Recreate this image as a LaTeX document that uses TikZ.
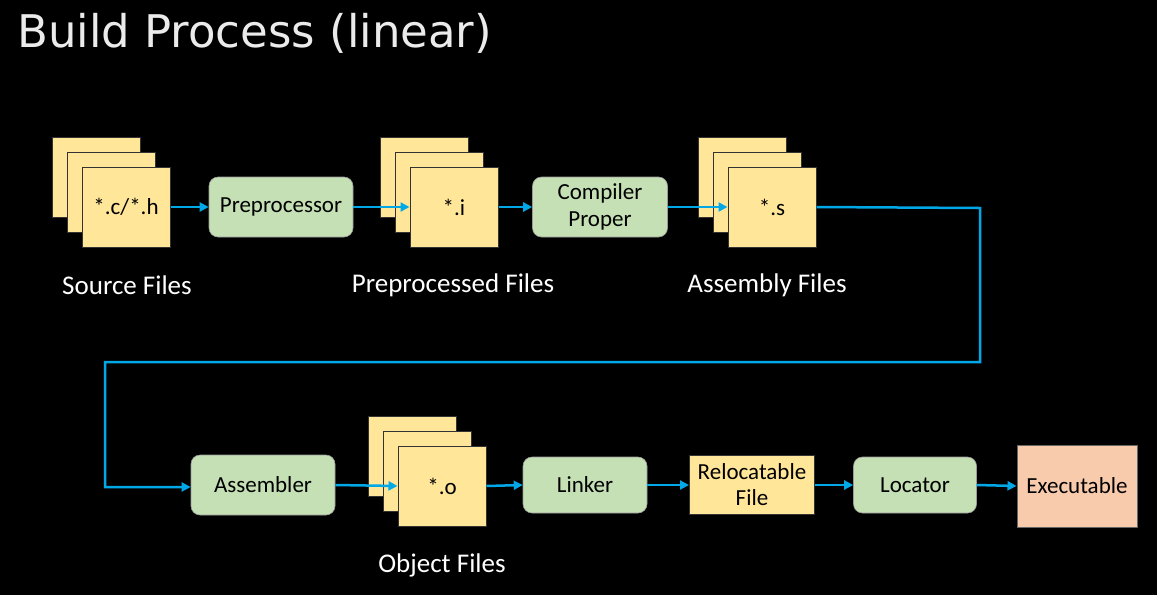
\documentclass[tikz,border=0pt]{standalone}
\usepackage{fontspec}
\setmainfont{Carlito}
\newfontfamily\titlefont{DejaVu Sans}
\usetikzlibrary{arrows.meta}
\definecolor{sheetYellow}{HTML}{FFE699}
\definecolor{stepGreen}{HTML}{C5E0B4}
\definecolor{exeSalmon}{HTML}{F8CBAD}
\definecolor{flowBlue}{HTML}{00A8E8}
\tikzset{
  sheet/.style={draw=black!80, line width=1pt, fill=sheetYellow, minimum width=88pt, minimum height=80pt, inner sep=0pt, font=\fontsize{23}{26}\selectfont},
  stepbox/.style={draw=black!40, line width=0.6pt, fill=stepGreen, rounded corners=9pt, inner sep=0pt, align=center, font=\fontsize{23}{27}\selectfont},
  caption/.style={text=white, font=\fontsize{27}{30}\selectfont},
  flow/.style={draw=flowBlue, line width=2.5pt, -{Triangle[length=9pt,width=9pt]}}
}
\begin{document}
\begin{tikzpicture}[x=1pt,y=-1pt]
        \useasboundingbox[fill=black] (0,0) rectangle (1157,595);
        % title
        \node[anchor=base west, text=black!8, inner sep=0pt, font=\titlefont\fontsize{45}{50}\selectfont] (title) at (17,47) {Build Process (linear)};

        % source files
        \node[sheet] (srcA) at (96,177) {};
        \node[sheet] (srcB) at (111,192) {};
        \node[sheet] (src) at (126,207) {*.c/*.h};
        \node[caption] (srcLabel) at (127,285) {Source Files};

        \node[stepbox, minimum width=144pt, minimum height=60pt] (pre) at (281,207) {Preprocessor};

        % preprocessed files
        \node[sheet] (iA) at (424,177) {};
        \node[sheet] (iB) at (439,192) {};
        \node[sheet] (ifile) at (454,207) {*.i};
        \node[caption] (iLabel) at (453,285) {Preprocessed Files};

        \node[stepbox, minimum width=135pt, minimum height=60pt] (cc) at (600,207) {Compiler\\Proper};

        % assembly files
        \node[sheet] (sA) at (742,177) {};
        \node[sheet] (sB) at (757,192) {};
        \node[sheet] (sfile) at (772,207) {*.s};
        \node[caption] (sLabel) at (767,285) {Assembly Files};

        % second row
        \node[stepbox, minimum width=144pt, minimum height=60pt] (asm) at (263,485) {Assembler};

        % object files
        \node[sheet] (oA) at (412,456) {};
        \node[sheet] (oB) at (427,471) {};
        \node[sheet] (ofile) at (442,486) {*.o};
        \node[caption] (oLabel) at (442,565) {Object Files};

        \node[stepbox, minimum width=124pt, minimum height=56pt] (ld) at (585,485) {Linker};
        \node[sheet, minimum width=125pt, minimum height=59pt, align=center, rounded corners=0pt] (reloc) at (752,485) {Relocatable\\File};
        \node[stepbox, minimum width=123pt, minimum height=56pt] (loc) at (915,485) {Locator};
        \node[draw=black!60, line width=1pt, fill=exeSalmon, minimum width=120pt, minimum height=82pt, inner sep=0pt, font=\fontsize{23}{26}\selectfont] (exe) at (1077,486) {Executable};

        % turn of the line
        \coordinate (turnA) at (980,208);
        \coordinate (turnB) at (980,362);
        \coordinate (turnC) at (105,362);
        \coordinate (turnD) at (105,487);

        % arrows
        \draw[flow] (src.east) -- (pre.west);
        \draw[flow] (pre.east) -- (ifile.west);
        \draw[flow] (ifile.east) -- (cc.west);
        \draw[flow] (cc.east) -- (sfile.west);
        \draw[flow, rounded corners=0pt] (sfile.east) -- (turnA) -- (turnB) -- (turnC) -- (turnD) -- (asm.west |- turnD);
        \draw[flow] (asm.east) -- (ofile.west);
        \draw[flow] (ofile.east) -- (ld.west);
        \draw[flow] (ld.east) -- (reloc.west);
        \draw[flow] (reloc.east) -- (loc.west);
        \draw[flow] (loc.east) -- (exe.west);
\end{tikzpicture}
\end{document}
